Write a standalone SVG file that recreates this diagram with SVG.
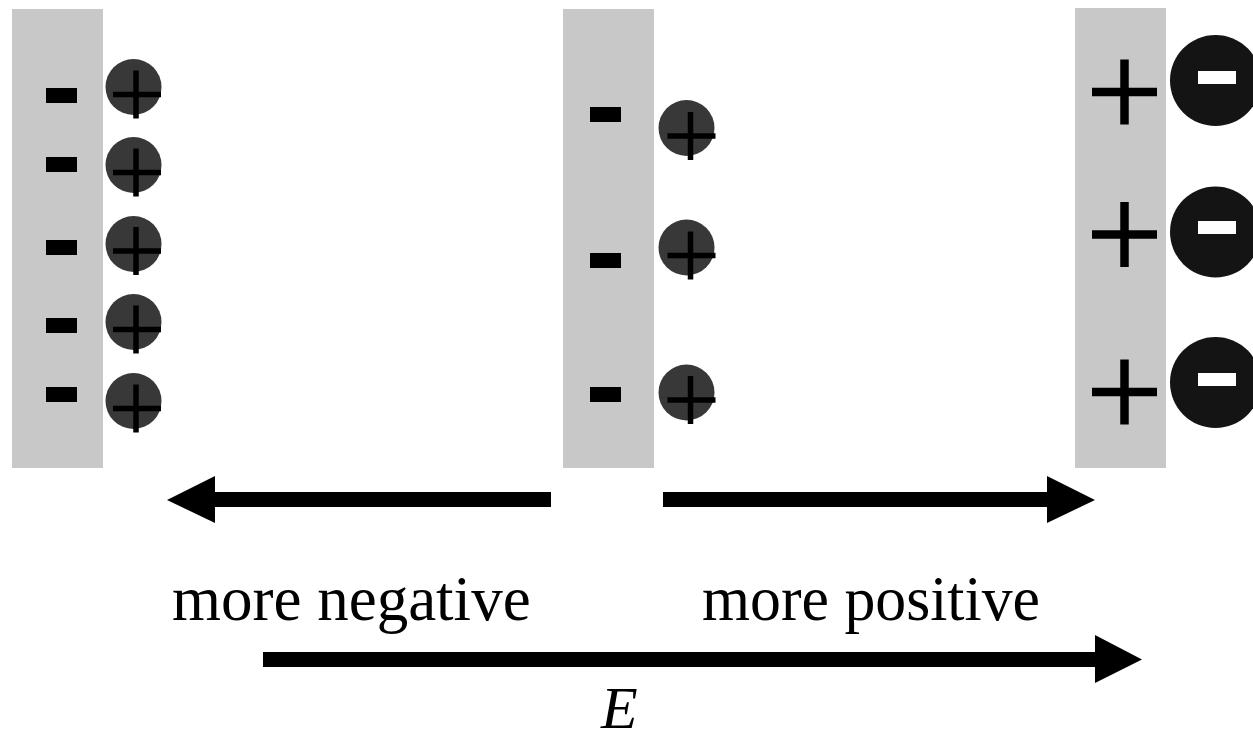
<svg xmlns="http://www.w3.org/2000/svg" width="1253" height="734" viewBox="0 0 1253 734">
  <style>
    .plate { fill: #c8c8c8; }
    .cation { fill: #383838; }
    .anion { fill: #141414; }
    .neg { fill: #000000; }
    .negw { fill: #ffffff; }
    .plus { stroke: #000000; stroke-width: 5.5; fill: none; }
    .plusbig { stroke: #000000; stroke-width: 8.5; fill: none; }
    .arrow { fill: #000000; }
    .label { font-family: "Liberation Serif", "Times New Roman", serif; font-size: 63px; fill: #000000; }
    .elabel { font-family: "Liberation Serif", "Times New Roman", serif; font-size: 60px; font-style: italic; fill: #000000; }
  </style>
  <defs>
    <path id="p-small" d="M-23,0 H25 M0,-24 V24"/>
    <path id="p-big" d="M-32.5,0 H32.5 M0,-32.5 V32.5"/>
  </defs>
  <rect width="1253" height="734" fill="#ffffff"/>

  <g id="electrode-negative">
    <rect class="plate" x="12" y="9" width="91" height="459"/>
    <rect class="neg" x="46" y="88" width="31" height="15"/>
    <rect class="neg" x="46" y="157" width="31" height="15"/>
    <rect class="neg" x="46" y="240" width="31" height="15"/>
    <rect class="neg" x="46" y="318" width="31" height="15"/>
    <rect class="neg" x="46" y="387" width="31" height="15"/>
    <circle class="cation" cx="133.5" cy="87" r="28"/>
    <circle class="cation" cx="133.5" cy="165" r="28"/>
    <circle class="cation" cx="133.5" cy="244" r="28"/>
    <circle class="cation" cx="133.5" cy="322" r="28"/>
    <circle class="cation" cx="133.5" cy="401" r="28"/>
    <use href="#p-small" class="plus" x="136" y="94.5"/>
    <use href="#p-small" class="plus" x="136" y="172.5"/>
    <use href="#p-small" class="plus" x="136" y="251"/>
    <use href="#p-small" class="plus" x="136" y="329.5"/>
    <use href="#p-small" class="plus" x="136" y="408.5"/>
  </g>

  <g id="electrode-middle">
    <rect class="plate" x="563" y="9" width="91" height="459"/>
    <rect class="neg" x="590" y="107" width="31" height="15"/>
    <rect class="neg" x="590" y="253" width="31" height="15"/>
    <rect class="neg" x="590" y="387" width="31" height="15"/>
    <circle class="cation" cx="686.5" cy="128" r="28"/>
    <circle class="cation" cx="686.5" cy="247.5" r="28"/>
    <circle class="cation" cx="686.5" cy="392.5" r="28"/>
    <use href="#p-small" class="plus" x="690.5" y="136"/>
    <use href="#p-small" class="plus" x="690.5" y="255.5"/>
    <use href="#p-small" class="plus" x="690.5" y="400"/>
  </g>

  <g id="electrode-positive">
    <rect class="plate" x="1075" y="8" width="91" height="460"/>
    <use href="#p-big" class="plusbig" x="1124.5" y="92"/>
    <use href="#p-big" class="plusbig" x="1124.5" y="234.5"/>
    <use href="#p-big" class="plusbig" x="1124.5" y="392"/>
    <circle class="anion" cx="1215.5" cy="80.5" r="45.5"/>
    <circle class="anion" cx="1215.5" cy="232" r="45.5"/>
    <circle class="anion" cx="1215.5" cy="382.5" r="45.5"/>
    <rect class="negw" x="1198" y="71" width="38" height="13"/>
    <rect class="negw" x="1198" y="221" width="38" height="13"/>
    <rect class="negw" x="1198" y="373" width="38" height="13"/>
  </g>

  <g id="connectors">
    <polygon id="arrow-negative" class="arrow" points="551,492 215,492 215,476 167,500 215,523 215,507 551,507"/>
    <polygon id="arrow-positive" class="arrow" points="663,492 1047,492 1047,476 1095,500 1047,523 1047,507 663,507"/>
    <polygon id="arrow-E" class="arrow" points="263,652 1095,652 1095,635 1142,659.5 1095,683 1095,667 263,667"/>
  </g>

  <g id="labels">
    <text class="label" x="172" y="620">more negative</text>
    <text class="label" x="702" y="620" textLength="338" lengthAdjust="spacingAndGlyphs">more positive</text>
    <text class="elabel" x="601" y="728">E</text>
  </g>
</svg>
